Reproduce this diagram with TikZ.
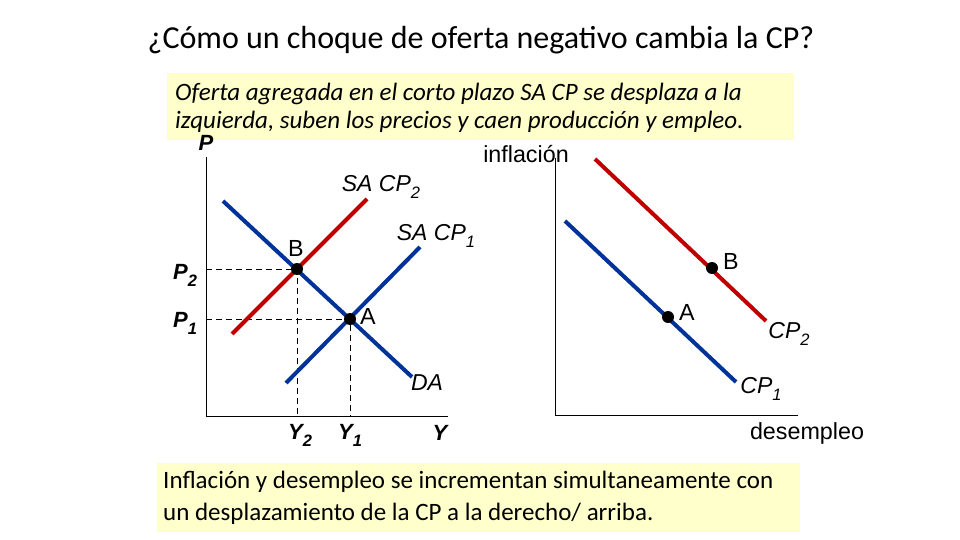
\documentclass[tikz,border=0pt]{standalone}
\usepackage{fontspec}
\setmainfont{Carlito}
\newfontfamily\arialf{Liberation Sans}
\definecolor{cblue}{RGB}{0,51,153}
\definecolor{cred}{RGB}{192,0,0}
\definecolor{boxy}{RGB}{255,255,204}
\newcommand\lsub[1]{\raisebox{-0.32em}{\fontsize{16.5}{16.5}\selectfont #1}}
\tikzset{
  curveblue/.style={draw=cblue,line width=4pt},
  curvered/.style={draw=cred,line width=4pt},
  axis/.style={draw=black,line width=0.8pt},
  guide/.style={draw=black,line width=0.6pt,dash pattern=on 6pt off 4pt},
  dotpt/.style={circle,fill=black,inner sep=0pt,minimum size=12pt},
  lab/.style={font=\arialf\fontsize{23.3}{23.3}\selectfont,inner sep=0pt},
  ilab/.style={font=\arialf\itshape\fontsize{23}{23}\selectfont,inner sep=0pt},
  blab/.style={font=\arialf\bfseries\itshape\fontsize{22}{22}\selectfont,inner sep=0pt},
  notebox/.style={fill=boxy,anchor=north west,inner sep=0pt},
  notetext/.style={anchor=west,align=flush left,inner sep=0pt}
}
\begin{document}
\begin{tikzpicture}[x=1pt,y=-1pt]
\useasboundingbox (0,0) rectangle (960,540);
\fill[white] (0,0) rectangle (960,540);

\node[font=\fontsize{32}{34}\selectfont,inner sep=0pt] (title) at (481,40) {¿Cómo un choque de oferta negativo cambia la CP?};

\node[notebox,minimum width=627pt,minimum height=67pt] (topbox) at (167,73) {};
\node[notetext,font=\itshape\fontsize{25}{27.5}\selectfont] (toptext) at ([xshift=8pt,yshift=-1pt]topbox.west)
  {Oferta agregada en el corto plazo SA CP se desplaza a la\\izquierda, suben los precios y caen producción y empleo.};

\node[notebox,minimum width=643pt,minimum height=69pt] (botbox) at (157,463) {};
\node[notetext,font=\fontsize{25}{32}\selectfont] (bottext) at ([xshift=6pt]botbox.west)
  {Inflación y desempleo se incrementan simultaneamente con\\un desplazamiento de la CP a la derecho/ arriba.};

% left graph
\coordinate (lo) at (206,416);
\coordinate (ltop) at (206,157);
\coordinate (lright) at (448,416);
\draw[axis] (ltop) -- (lo) -- (lright);
\node[blab] (plab) at (206,143) {P};

\coordinate (B1) at (297,269);
\coordinate (A1) at (350,319);
\coordinate (P2y) at (206,269);
\coordinate (P1y) at (206,319);
\coordinate (Y2x) at (297,416);
\coordinate (Y1x) at (350,416);
\draw[guide] (P2y) -- (B1) -- (Y2x);
\draw[guide] (P1y) -- (A1) -- (Y1x);

\coordinate (da0) at (223,201);
\coordinate (da1) at (412,377);
\coordinate (s20) at (232,334);
\coordinate (s21) at (367,199);
\coordinate (s10) at (286,383);
\coordinate (s11) at (420,247);
\draw[curveblue] (da0) -- (da1);
\draw[curvered] (s20) -- (s21);
\draw[curveblue] (s10) -- (s11);
\node[dotpt] (dB1) at (B1) {};
\node[dotpt] (dA1) at (A1) {};

\node[lab] (lB1) at (296,248) {B};
\node[lab] (lA1) at (368,316) {A};
\node[blab] (lP2) at (185,275) {P\lsub{2}};
\node[blab] (lP1) at (185,323) {P\lsub{1}};
\node[blab] (lY2) at (300,435) {Y\lsub{2}};
\node[blab] (lY1) at (350,435) {Y\lsub{1}};
\node[blab] (lY) at (440,433) {Y};
\node[ilab] (lsa2) at (381,187) {SA CP\lsub{2}};
\node[ilab] (lsa1) at (436,236) {SA CP\lsub{1}};
\node[ilab] (lda) at (427,383) {DA};

% right graph
\coordinate (ro) at (555,415);
\coordinate (rtop) at (555,158);
\coordinate (rright) at (798,415);
\draw[axis] (rtop) -- (ro) -- (rright);
\node[lab] (infl) at (526,154) {inflación};
\node[lab] (desem) at (807,433) {desempleo};

\coordinate (c20) at (595,159);
\coordinate (c21) at (766,321);
\coordinate (c10) at (565,221);
\coordinate (c11) at (736,382);
\draw[curvered] (c20) -- (c21);
\draw[curveblue] (c10) -- (c11);
\node[dotpt] (dB2) at (712,268) {};
\node[dotpt] (dA2) at (668,317) {};
\node[lab] (lB2) at (731,261) {B};
\node[lab] (lA2) at (687,312) {A};
\node[ilab] (lc2) at (789,334) {CP\lsub{2}};
\node[ilab] (lc1) at (761,389) {CP\lsub{1}};
\end{tikzpicture}
\end{document}
